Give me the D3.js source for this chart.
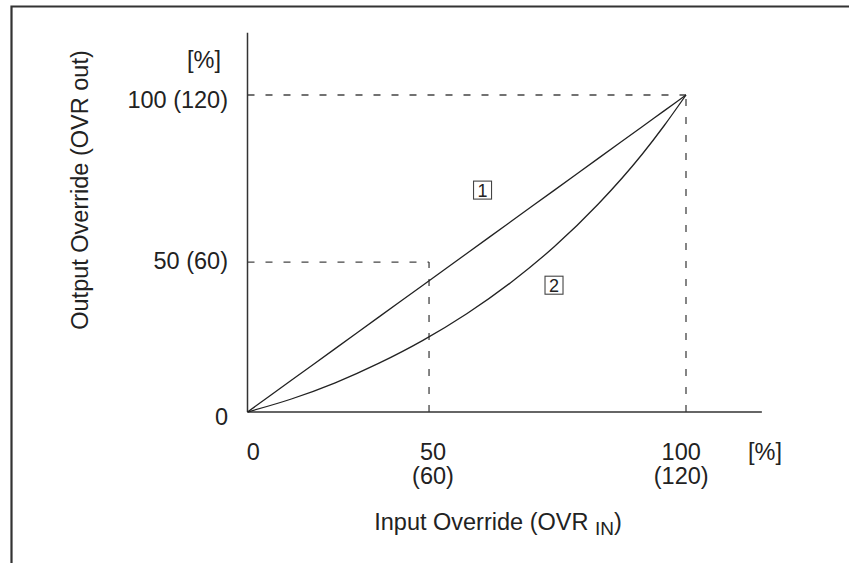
<!DOCTYPE html>
<html><head><meta charset="utf-8">
<script src="https://cdn.jsdelivr.net/npm/d3@7"></script>
<style>
html,body{margin:0;padding:0;background:#fff;}
text{font-family:"Liberation Sans",Arial,sans-serif;fill:#222;}
</style></head>
<body>
<svg id="c" width="849" height="563"></svg>
<script>
// ---- data ----
const inputValues   = [0, 10, 20, 30, 40, 50, 60, 70, 80, 90, 95, 100];
const curve1Output  = [0, 10, 20, 30, 40, 50, 60, 70, 80, 90, 95, 100];
const curve2Output  = [0, 4.1, 9.2, 15.4, 22.6, 31, 40.8, 52.2, 65.6, 81.3, 90.3, 100];
const guideX        = [41.4, 100];          // positions of the "50 (60)" and "100 (120)" input marks
const guideY        = [47.3, 100];          // positions of the "50 (60)" and "100 (120)" output marks
const xTickLabels   = [["0"], ["50", "(60)"], ["100", "(120)"]];
const xTickPos      = [1.3, 42.3, 98.9];
const yTickLabels   = ["0", "50 (60)", "100 (120)"];
const yTickPos      = [-1.3, 47.8, 98.7];
const curveLabels   = ["1", "2"];
const curveLabelX   = [53.6, 69.9];
const curveLabelY   = [70, 40];

const svg = d3.select("#c");
const x = d3.scaleLinear().domain([0, 100]).range([247.5, 686]);
const y = d3.scaleLinear().domain([0, 100]).range([412, 95]);
const xMax = 117.3, yMax = 119.6;

// frame
svg.append("path").attr("d", "M11.5,563V6.5H849")
  .attr("fill", "none").attr("stroke", "#333").attr("stroke-width", 2.2);

// guides
const dash = "7,11";
guideX.forEach((gx, i) => {
  svg.append("line").attr("x1", x(gx)).attr("x2", x(gx)).attr("y1", y(0)).attr("y2", y(guideY[i]))
    .attr("stroke", "#444").attr("stroke-width", 1.3).attr("stroke-dasharray", dash);
  svg.append("line").attr("x1", x(0)).attr("x2", x(gx)).attr("y1", y(guideY[i])).attr("y2", y(guideY[i]))
    .attr("stroke", "#444").attr("stroke-width", 1.3).attr("stroke-dasharray", dash);
});

// axes
svg.append("line").attr("x1", x(0)).attr("x2", x(0)).attr("y1", y(0)).attr("y2", y(yMax))
  .attr("stroke", "#333").attr("stroke-width", 1.5);
svg.append("line").attr("x1", x(0)).attr("x2", x(xMax)).attr("y1", y(0)).attr("y2", y(0))
  .attr("stroke", "#333").attr("stroke-width", 1.5);

// curves
const line = d3.line().x((d) => x(d[0])).y((d) => y(d[1])).curve(d3.curveMonotoneX);
[curve1Output, curve2Output].forEach((vals) => {
  svg.append("path").datum(inputValues.map((v, i) => [v, vals[i]]))
    .attr("d", line).attr("fill", "none").attr("stroke", "#222").attr("stroke-width", 1.3);
});

// curve labels (boxed)
curveLabels.forEach((t, i) => {
  const cx = x(curveLabelX[i]), cy = y(curveLabelY[i]);
  svg.append("rect").attr("x", cx - 9).attr("y", cy - 9).attr("width", 18).attr("height", 18)
    .attr("fill", "#fff").attr("stroke", "#444").attr("stroke-width", 1.1);
  svg.append("text").attr("x", cx).attr("y", cy + 6.5).attr("text-anchor", "middle")
    .attr("font-size", 18).text(t);
});

const fs = 23.5;
// y tick labels
yTickLabels.forEach((t, i) => {
  svg.append("text").attr("x", 228).attr("y", y(yTickPos[i]) + 8.4).attr("text-anchor", "end")
    .attr("font-size", fs).text(t);
});
svg.append("text").attr("x", 221).attr("y", 68).attr("text-anchor", "end").attr("font-size", fs).text("[%]");

// x tick labels
xTickLabels.forEach((lines, i) => {
  lines.forEach((t, j) => {
    svg.append("text").attr("x", x(xTickPos[i])).attr("y", 460 + j * 24).attr("text-anchor", "middle")
      .attr("font-size", fs).text(t);
  });
});
svg.append("text").attr("x", 748).attr("y", 460).attr("font-size", fs).text("[%]");

// axis titles
const xt = svg.append("text").attr("x", 498).attr("y", 530).attr("text-anchor", "middle").attr("font-size", fs);
xt.append("tspan").text("Input Override (OVR ");
xt.append("tspan").attr("font-size", 19).attr("dy", 5).text("IN");
xt.append("tspan").attr("dy", -5).text(")");

svg.append("text").attr("transform", "translate(88,190) rotate(-90)").attr("text-anchor", "middle")
  .attr("font-size", fs).text("Output Override (OVR out)");
</script>
</body></html>
